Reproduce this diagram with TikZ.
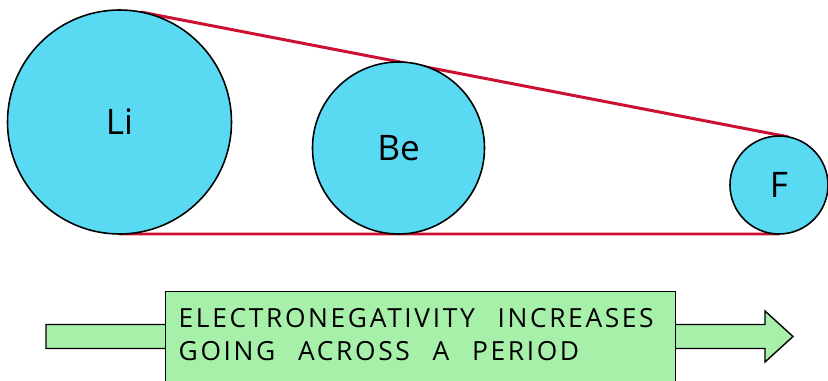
\documentclass[tikz,border=0pt]{standalone}
\usepackage{fontspec}
\setmainfont{Open Sans}
\newfontfamily\widefont{Open Sans}[WordSpace=2.4,LetterSpace=10]
\usepackage{tikz}
\usetikzlibrary{backgrounds}
\definecolor{atomfill}{RGB}{90,218,242}
\definecolor{trendred}{RGB}{204,16,52}
\definecolor{boxgreen}{RGB}{166,240,170}
\tikzset{
  atom/.style={circle,draw=black,line width=0.9pt,fill=atomfill,inner sep=0pt,outer sep=0pt,
    font=\fontsize{20}{24}\selectfont},
  trend/.style={trendred,line width=1.7pt},
  infobox/.style={draw=black,line width=0.8pt,fill=boxgreen,inner xsep=0.26cm,inner ysep=0.34cm,
    anchor=north west}
}

\begin{document}
\begin{tikzpicture}[x=2cm,y=2cm]
  \useasboundingbox (0,0) rectangle (8.28,3.81);
  % atoms, shrinking across the period
  \node[atom,minimum size=4.48cm] (Li) at (1.195,2.59) {Li};
  \node[atom,minimum size=3.44cm] (Be) at (3.985,2.33) {Be};
  \node[atom,minimum size=1.96cm] (F)  at (7.79,1.96)  {F};
  % envelope (tangents) behind the atoms
  \begin{scope}[on background layer]
    \draw[trend] (Li.79.08) -- (F.79.08);
    \draw[trend] (Li.south) -- (F.south);
  \end{scope}
  % direction arrow, box is laid over its middle
  \filldraw[fill=boxgreen,line width=0.8pt] (0.46,0.325) -- (7.65,0.325) -- (7.65,0.19)
    -- (7.93,0.445) -- (7.65,0.70) -- (7.65,0.565) -- (0.46,0.565) -- cycle;
  \node[infobox] (ENbox) at (1.65,0.90)
    {\parbox[t][1.9cm][t]{9.68cm}{\raggedright\widefont\fontsize{15}{18.5}\selectfont
      ELECTRONEGATIVITY INCREASES\\
      GOING ACROSS A PERIOD}};
\end{tikzpicture}
\end{document}
